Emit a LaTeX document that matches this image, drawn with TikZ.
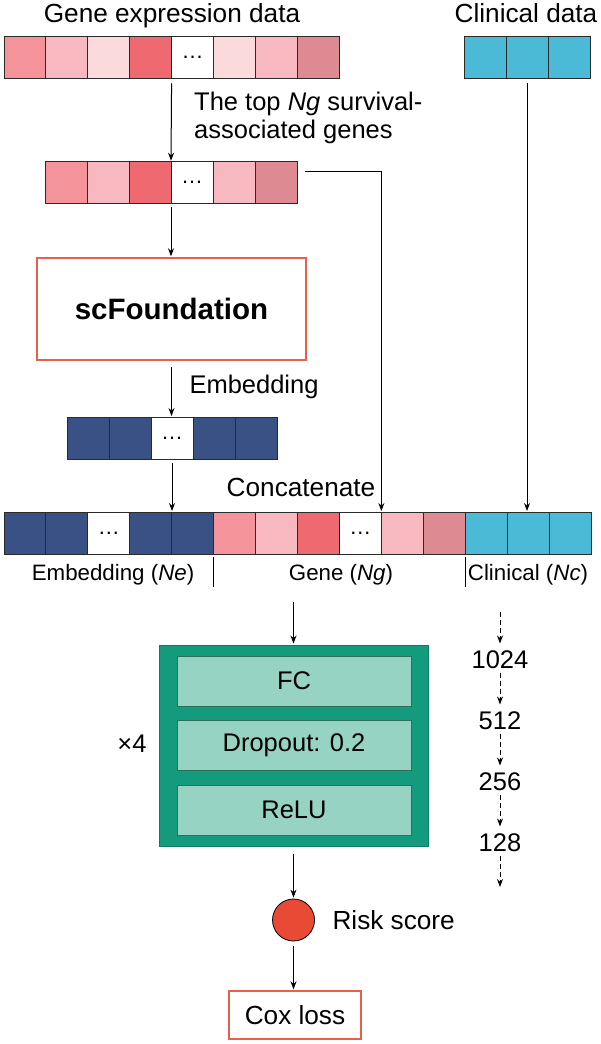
\documentclass[tikz,border=0pt]{standalone}
\usepackage{fontspec}
\setmainfont{Liberation Sans}
\usetikzlibrary{arrows.meta,calc}
\definecolor{pkA}{HTML}{F4939A}
\definecolor{pkB}{HTML}{F7B8BF}
\definecolor{pkC}{HTML}{FADADD}
\definecolor{pkD}{HTML}{EF6A70}
\definecolor{pkE}{HTML}{DD8A92}
\definecolor{cy}{HTML}{4BBAD6}
\definecolor{navy}{HTML}{3A5185}
\definecolor{cellline}{HTML}{2A2A2A}
\definecolor{boxred}{HTML}{E8604C}
\definecolor{gmain}{HTML}{149A7C}
\definecolor{gdark}{HTML}{0D7A62}
\definecolor{ginner}{HTML}{97D3C2}
\definecolor{ginline}{HTML}{2E6F5A}
\definecolor{riskred}{HTML}{E84A35}
\begin{document}
\begin{tikzpicture}[x=1pt,y=-1pt,
  every node/.style={font=\fontsize{25.5}{28}\selectfont},
  bigtext/.style={font=\fontsize{26.2}{28}\selectfont},
  smalltext/.style={font=\fontsize{22.3}{26}\selectfont},
  cell/.style={draw=cellline, line width=0.9pt, minimum width=41.93pt, minimum height=41.5pt, inner sep=0pt, outer sep=0pt},
  dotsnode/.style={font=\fontsize{22}{22}\selectfont, inner sep=0pt},
  arr/.style={-{Stealth[length=8pt,width=6pt]}, line width=1pt},
  darr/.style={-{Stealth[length=8pt,width=6pt]}, line width=1pt, dash pattern=on 5pt off 3pt},
  sepline/.style={line width=1.2pt},
  redbox/.style={draw=boxred, line width=1.4pt, inner sep=0pt},
  innerbox/.style={draw=ginline, fill=ginner, line width=1pt, minimum width=234pt, minimum height=50pt, inner sep=0pt}
]
\useasboundingbox (0,0) rectangle (600,1044);

% titles
\node[bigtext, anchor=base] (gtitle) at (172,23) {Gene expression data};
\node[bigtext, anchor=base] (ctitle) at (526,23) {Clinical data};

% top gene row
\foreach \c [count=\i] in {pkA,pkB,pkC,pkD,white,pkC,pkB,pkE}
  \node[cell, fill=\c] (t\i) at ({4+20.95+(\i-1)*41.9}, 57.5) {};
\node[dotsnode] (tdots) at (t5) {…};

% top clinical row
\foreach \i in {1,2,3}
  \node[cell, fill=cy, minimum width=42pt] (k\i) at ({464+21+(\i-1)*42}, 57.5) {};

% selection label
\node[anchor=north west, align=left, inner sep=0pt] (toplab) at (194,92) {The top \textit{Ng} survival-\\associated genes};

% selected genes row
\foreach \c [count=\i] in {pkA,pkB,pkD,white,pkB,pkE}
  \node[cell, fill=\c, minimum width=42pt] (s\i) at ({45+21+(\i-1)*42}, 182.5) {};
\node[dotsnode] (sdots) at (s4) {…};

% scFoundation
\node[redbox, minimum width=269pt, minimum height=102pt, font=\bfseries\fontsize{29.5}{32}\selectfont] (scf) at (171.5,309) {scFoundation};

\node[anchor=west] (emblab) at (186,387) {Embedding};

% embedding row
\foreach \c [count=\i] in {navy,navy,white,navy,navy}
  \node[cell, fill=\c, minimum width=42pt, minimum height=42pt] (e\i) at ({67+21+(\i-1)*42}, 438) {};
\node[dotsnode] (edots) at (e3) {…};

\node[bigtext] (concat) at (301,487) {Concatenate};

% concatenated row
\foreach \c [count=\i] in {navy,navy,white,navy,navy,pkA,pkB,pkD,white,pkB,pkE,cy,cy,cy}
  \node[cell, fill=\c, minimum height=42pt] (c\i) at ({4+20.965+(\i-1)*41.93}, 533) {};
\node[dotsnode] (cdotsA) at (c3) {…};
\node[dotsnode] (cdotsB) at (c9) {…};

% labels under concatenated row
\node[smalltext] (labE) at (113,575) {Embedding (\textit{Ne})};
\node[smalltext] (labG) at (341,575) {Gene (\textit{Ng})};
\node[smalltext] (labC) at (528,575) {Clinical (\textit{Nc})};
\draw[sepline] ([yshift=-3pt]c5.south east) -- ++(0,30);
\draw[sepline] ([yshift=-3pt]c11.south east) -- ++(0,30);

% arrows upper part
\draw[arr, shorten <=5pt, shorten >=1pt] (t4.south east) -- (s3.north east);
\draw[arr, shorten <=4pt, shorten >=1pt] (s3.south east) -- (s3.south east |- scf.north);
\draw[arr, shorten <=6pt, shorten >=1pt] (scf.south) -- (scf.south |- e3.north);
\draw[arr, shorten <=4pt, shorten >=1pt] (e3.south) -- (e3.south |- c4.north);
\draw[arr, shorten >=1pt] ([xshift=8pt,yshift=11.5pt]s6.east) -| (c9.north east);
\draw[arr, shorten <=5pt, shorten >=1pt] (k2.south) -- (k2.south |- c13.north);

% MLP block
\node[draw=gdark, fill=gmain, line width=1pt, minimum width=269pt, minimum height=201pt, inner sep=0pt] (mlp) at (293.5,745.5) {};
\node[innerbox] (fc) at (294,681) {FC};
\node[innerbox] (dp) at (294,745.5) {Dropout: 0.2};
\node[innerbox] (relu) at (294,810) {ReLU};
\node (x4) at (132,744) {×4};

\coordinate (mlpin) at (293.5,602);
\draw[arr, shorten >=1pt] (mlpin) -- (mlp.north);

% dimensions
\coordinate (dtop) at (500,612);
\node (n1) at (500,660) {1024};
\node (n2) at (500,721) {512};
\node (n3) at (500,782) {256};
\node (n4) at (500,843) {128};
\coordinate (dbot) at (500,887);
\draw[darr, shorten >=4pt] (dtop) -- (n1);
\draw[darr, shorten >=4pt] (n1) -- (n2);
\draw[darr, shorten >=4pt] (n2) -- (n3);
\draw[darr, shorten >=4pt] (n3) -- (n4);
\draw[darr] (n4) -- (dbot);

% output
\node[circle, draw=black, line width=0.8pt, fill=riskred, minimum size=42pt, inner sep=0pt] (risk) at (293.5,920) {};
\node[bigtext, anchor=west] (risklab) at (329,920) {Risk score};
\node[redbox, bigtext, minimum width=132pt, minimum height=48pt] (cox) at (295,1015) {Cox loss};
\draw[arr, shorten <=7pt, shorten >=1pt] (mlp.south) -- (risk.north);
\draw[arr, shorten <=5pt, shorten >=1pt] (risk.south) -- (risk.south |- cox.north);
\end{tikzpicture}
\end{document}
